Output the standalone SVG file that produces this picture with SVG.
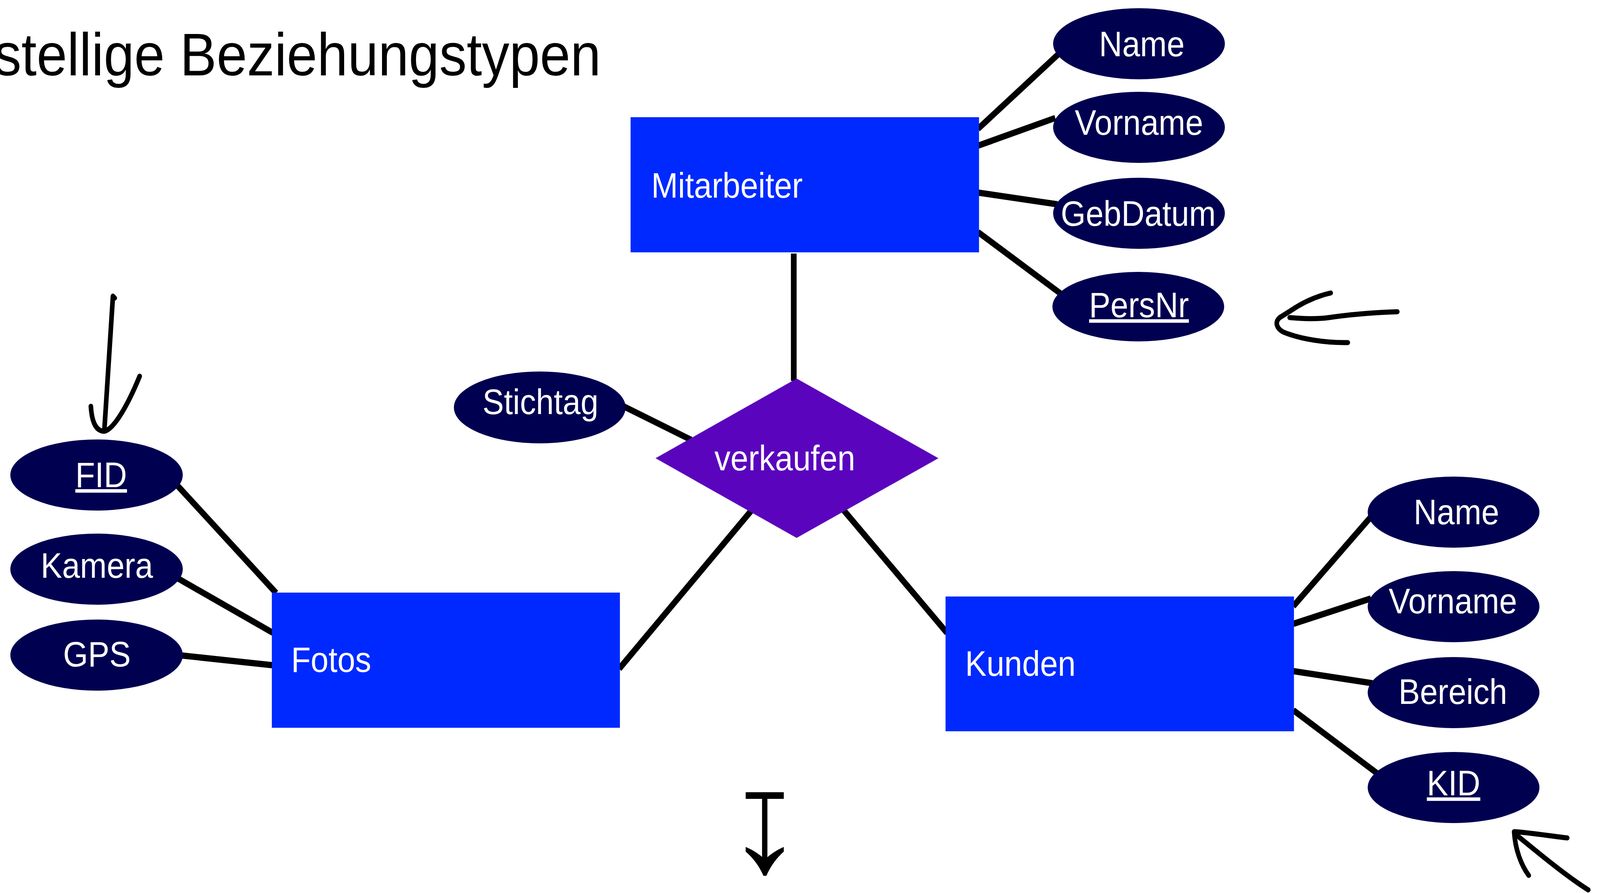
<svg xmlns="http://www.w3.org/2000/svg" width="4491" height="2286" viewBox="0 0 4491 2286" preserveAspectRatio="none">
<style>
svg{width:100vw;height:100vh}
.ent{fill:#0029ff}
.rel{fill:#5a05bd}
.att{fill:#000050}
.lbl{font-family:"Liberation Sans",Arial,sans-serif;font-size:90px;fill:#ffffff}
.mid{text-anchor:middle}
.key{text-decoration:underline}
.con{stroke:#000000;stroke-width:16;fill:none}
.ink{stroke:#000000;stroke-width:13;fill:none;stroke-linecap:round;stroke-linejoin:round}
</style>
<rect width="4491" height="2286" fill="#ffffff"/>
<text id="title" x="-17" y="193" font-family="'Liberation Sans',Arial,sans-serif" font-size="154" fill="#000000">stellige Beziehungstypen</text>
<g id="connectors">
<line class="con" x1="2228" y1="649" x2="2228" y2="975"/>
<line class="con" x1="2745" y1="330" x2="2975" y2="135"/>
<line class="con" x1="2745" y1="373" x2="2962" y2="302"/>
<line class="con" x1="2745" y1="493" x2="2968" y2="523"/>
<line class="con" x1="2745" y1="594" x2="2985" y2="757"/>
<line class="con" x1="1750" y1="1040" x2="1940" y2="1126"/>
<line class="con" x1="2108" y1="1308" x2="1738" y2="1712"/>
<line class="con" x1="2368" y1="1306" x2="2658" y2="1620"/>
<line class="con" x1="775" y1="1518" x2="498" y2="1243"/>
<line class="con" x1="766" y1="1620" x2="500" y2="1481"/>
<line class="con" x1="766" y1="1703" x2="510" y2="1678"/>
<line class="con" x1="3630" y1="1552" x2="3848" y2="1323"/>
<line class="con" x1="3630" y1="1597" x2="3848" y2="1532"/>
<line class="con" x1="3630" y1="1718" x2="3852" y2="1749"/>
<line class="con" x1="3630" y1="1818" x2="3866" y2="1980"/>
</g>
<g id="mitarbeiter">
<rect class="ent" x="1770" y="300" width="978" height="346"/>
<text class="lbl" x="1828" y="506">Mitarbeiter</text>
</g>
<g id="fotos">
<rect class="ent" x="763" y="1517" width="977" height="346"/>
<text class="lbl" x="817" y="1720">Fotos</text>
</g>
<g id="kunden">
<rect class="ent" x="2654" y="1527" width="978" height="345"/>
<text class="lbl" x="2709" y="1730">Kunden</text>
</g>
<g id="verkaufen">
<polygon class="rel" points="2236,969 2634,1173 2236,1377 1840,1173"/>
<text class="lbl mid" x="2203" y="1204">verkaufen</text>
</g>
<g id="m-name"><ellipse class="att" cx="3197" cy="112" rx="241" ry="91"/><text class="lbl mid" x="3205" y="144">Name</text></g>
<g id="m-vorname"><ellipse class="att" cx="3197" cy="326" rx="241" ry="91"/><text class="lbl mid" x="3197" y="345">Vorname</text></g>
<g id="m-gebdatum"><ellipse class="att" cx="3197" cy="546" rx="241" ry="91"/><text class="lbl mid" x="3195" y="578">GebDatum</text></g>
<g id="m-persnr"><ellipse class="att" cx="3195" cy="785" rx="241" ry="89"/><text class="lbl mid key" x="3197" y="812">PersNr</text></g>
<g id="stichtag"><ellipse class="att" cx="1515" cy="1043" rx="241" ry="92"/><text class="lbl mid" x="1517" y="1060">Stichtag</text></g>
<g id="f-fid"><ellipse class="att" cx="271" cy="1216" rx="242" ry="91"/><text class="lbl mid key" x="284" y="1247">FID</text></g>
<g id="f-kamera"><ellipse class="att" cx="271" cy="1457" rx="242" ry="91"/><text class="lbl mid" x="272" y="1479">Kamera</text></g>
<g id="f-gps"><ellipse class="att" cx="271" cy="1677" rx="242" ry="91"/><text class="lbl mid" x="272" y="1706">GPS</text></g>
<g id="k-name"><ellipse class="att" cx="4080" cy="1311" rx="241" ry="91"/><text class="lbl mid" x="4088" y="1342">Name</text></g>
<g id="k-vorname"><ellipse class="att" cx="4080" cy="1553" rx="241" ry="91"/><text class="lbl mid" x="4078" y="1570">Vorname</text></g>
<g id="k-bereich"><ellipse class="att" cx="4080" cy="1773" rx="241" ry="91"/><text class="lbl mid" x="4078" y="1802">Bereich</text></g>
<g id="k-kid"><ellipse class="att" cx="4080" cy="2016" rx="241" ry="91"/><text class="lbl mid key" x="4080" y="2036">KID</text></g>
<g id="ink-fid">
<path class="ink" d="M322,763 L317,758 L293,1100"/>
<path class="ink" d="M255,1040 C258,1085 272,1104 293,1104 C322,1098 362,1030 392,963"/>
</g>
<g id="ink-persnr">
<path class="ink" d="M3922,798 C3860,800 3790,805 3730,813 C3690,818 3650,815 3620,813"/>
<path class="ink" d="M3735,750 C3700,757 3660,772 3620,797 L3592,813 C3578,824 3582,840 3602,850 C3650,868 3720,878 3783,877"/>
</g>
<g id="ink-kid">
<path class="ink" d="M4399,2145 C4350,2140 4300,2132 4250,2129 C4253,2175 4270,2215 4291,2241"/>
<path class="ink" d="M4256,2137 C4320,2185 4400,2245 4458,2278"/>
</g>
<g id="down-arrow">
<rect x="2093" y="2028" width="107" height="17" fill="#000000"/>
<rect x="2139" y="2040" width="15" height="165" fill="#000000"/>
<path d="M2093,2168 L2093,2180 Q2125,2205 2143,2242 L2151,2242 Q2169,2205 2200,2180 L2200,2168 Q2170,2180 2147,2200 Q2124,2180 2093,2168 Z" fill="#000000"/>
</g>
</svg>
